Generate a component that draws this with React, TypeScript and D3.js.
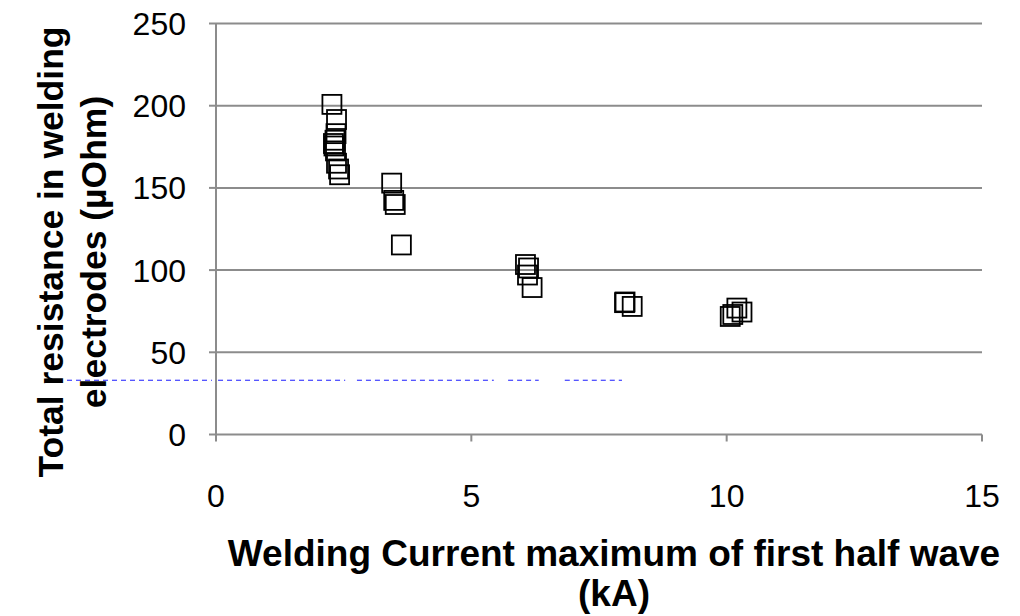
import React from "react";
import * as d3 from "d3";

const currentKA = [2.27, 2.36, 2.35, 2.33, 2.31, 2.34, 2.3, 2.36, 2.4, 2.42, 3.44, 3.48, 3.51, 3.63, 6.06, 6.12, 6.1, 6.19, 8.01, 8.0, 8.15, 10.07, 10.12, 10.2, 10.3];
const resistance = [200.8, 191.6, 183, 179, 175.5, 172.5, 177, 165, 161.5, 158, 152.9, 142.4, 139.9, 115.3, 103.4, 101.3, 97, 89.4, 80.6, 80.2, 77.9, 71.8, 73, 76.9, 74.5];
const xTicks = [0, 5, 10, 15];
const yTicks = [0, 50, 100, 150, 200, 250];
const dashedLevel = 33;
const dashedSegments: [number, number][] = [[-3.27, -0.08], [0.04, 2.53], [2.76, 5.44], [5.72, 6.32], [6.83, 7.95]];
const xTitle = ["Welding Current maximum of first half wave", "(kA)"];
const yTitle = ["Total resistance in welding", "electrodes (µOhm)"];

export default function App() {
  const W = 1020, H = 616;
  const x = d3.scaleLinear().domain([0, 15]).range([216, 982]);
  const y = d3.scaleLinear().domain([0, 250]).range([434.5, 23.5]);
  const grid = "#8c8c8c";
  const font = "Liberation Sans, Arial, sans-serif";
  const m = 19;
  return (
    <svg width={W} height={H} style={{ position: "absolute", left: 0, top: 0 }} fontFamily={font}>
      <rect width={W} height={H} fill="#fff" />
      {yTicks.filter(t => t > 0).map(t => (
        <line key={t} x1={x(0)} x2={x(15)} y1={y(t)} y2={y(t)} stroke={grid} strokeWidth={2} />
      ))}
      {yTicks.map(t => (
        <line key={"yt" + t} x1={x(0) - 7} x2={x(0)} y1={y(t)} y2={y(t)} stroke={grid} strokeWidth={2} />
      ))}
      {xTicks.map(t => (
        <line key={"xt" + t} x1={x(t)} x2={x(t)} y1={y(0)} y2={y(0) + 7} stroke={grid} strokeWidth={2} />
      ))}
      <line x1={x(0)} x2={x(0)} y1={y(0)} y2={y(250)} stroke={grid} strokeWidth={2} />
      <line x1={x(0)} x2={x(15)} y1={y(0)} y2={y(0)} stroke={grid} strokeWidth={2} />
      {dashedSegments.map((s, i) => (
        <line key={"d" + i} x1={x(s[0])} x2={x(s[1])} y1={y(dashedLevel)} y2={y(dashedLevel)} stroke="#1a1aff" strokeWidth={1} strokeDasharray="5,4" />
      ))}
      {currentKA.map((v, i) => (
        <rect key={"p" + i} x={x(v) - m / 2} y={y(resistance[i]) - m / 2} width={m} height={m} fill="none" stroke="#000" strokeWidth={1.8} />
      ))}
      {yTicks.map(t => (
        <text key={"yl" + t} x={186} y={y(t)} dy="0.36em" textAnchor="end" fontSize={32}>{t}</text>
      ))}
      {xTicks.map(t => (
        <text key={"xl" + t} x={x(t)} y={495} dy="0.36em" textAnchor="middle" fontSize={32}>{t}</text>
      ))}
      <text x={614} y={566} textAnchor="middle" fontSize={37} fontWeight="bold">{xTitle[0]}</text>
      <text x={614} y={606} textAnchor="middle" fontSize={37} fontWeight="bold">{xTitle[1]}</text>
      <g transform="translate(63,252) rotate(-90)">
        <text x={0} y={0} textAnchor="middle" fontSize={35.5} fontWeight="bold">{yTitle[0]}</text>
        <text x={0} y={43} textAnchor="middle" fontSize={35.5} fontWeight="bold">{yTitle[1]}</text>
      </g>
    </svg>
  );
}
